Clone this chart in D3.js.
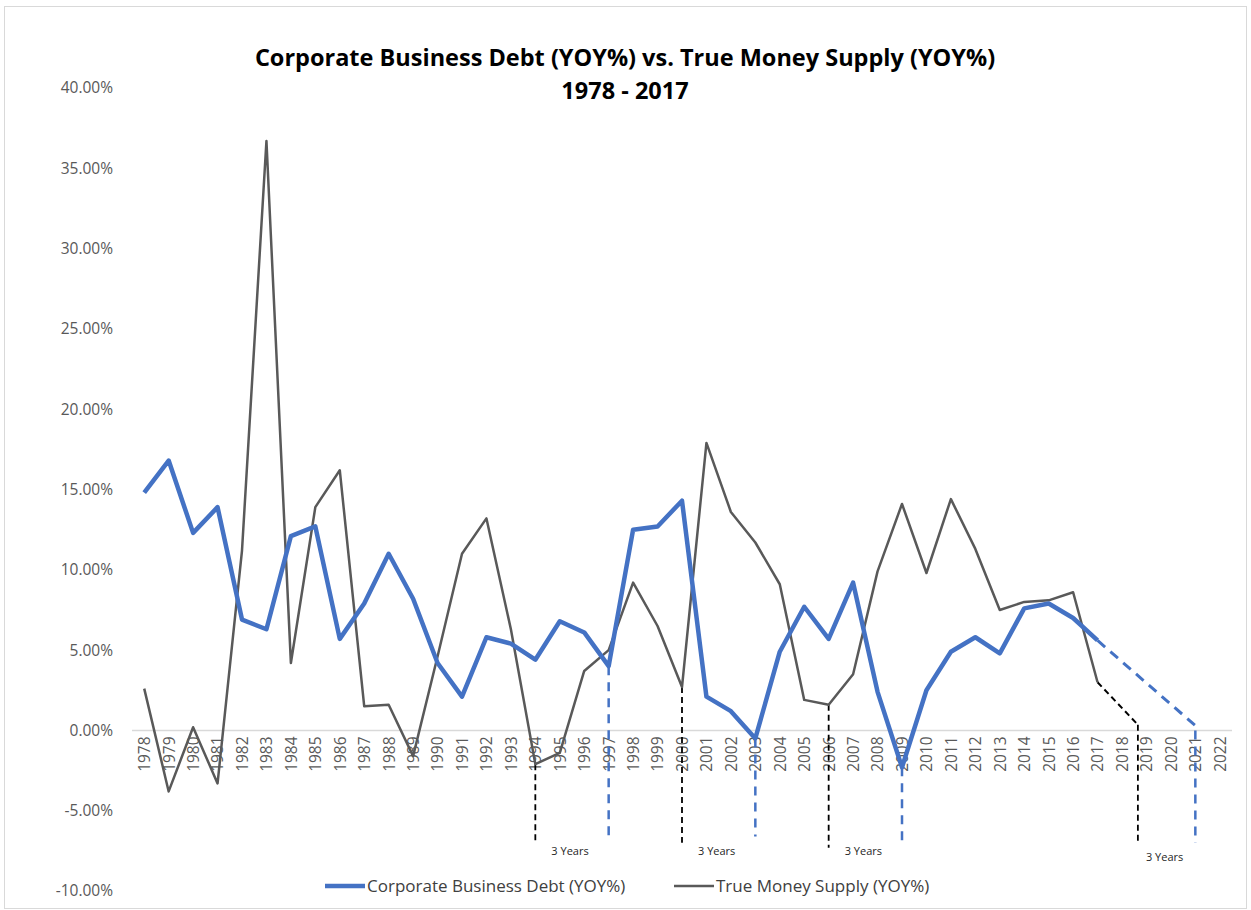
<!DOCTYPE html>
<html>
<head>
<meta charset="utf-8">
<script src="https://cdn.jsdelivr.net/npm/d3@7"></script>
<style>
  body { margin: 0; background: #fff; }
  text { font-family: "Open Sans", "DejaVu Sans", sans-serif; }
</style>
</head>
<body>
<svg class="chart" width="1251" height="910"></svg>
<script>
// data (percent YOY)
const years = d3.range(1978, 2023);
const dataYears = d3.range(1978, 2018);
const debt = [14.8, 16.8, 12.3, 13.9, 6.9, 6.3, 12.1, 12.7, 5.7, 7.9,
    11.0, 8.2, 4.2, 2.1, 5.8, 5.4, 4.4, 6.8, 6.1, 4.0,
    12.5, 12.7, 14.3, 2.1, 1.2, -0.5, 4.9, 7.7, 5.7, 9.2,
    2.4, -2.3, 2.5, 4.9, 5.8, 4.8, 7.6, 7.9, 7.0, 5.6];
const money = [2.6, -3.8, 0.2, -3.3, 11.2, 36.7, 4.2, 13.9, 16.2, 1.5,
    1.6, -1.6, 4.6, 11.0, 13.2, 6.3, -2.1, -1.4, 3.7, 5.0,
    9.2, 6.5, 2.7, 17.9, 13.6, 11.7, 9.1, 1.9, 1.6, 3.5,
    9.9, 14.1, 9.8, 14.4, 11.3, 7.5, 8.0, 8.1, 8.6, 3.0];

// dashed projections
const debtProjYears = [2017, 2021];
const debtProj = [5.6, 0.3];
const moneyProjYears = [2017, 2018.65];
const moneyProj = [3.0, 0.35];

// vertical markers ("3 Years" lag)
const markerYears = [1994, 1997, 2000, 2003, 2006, 2009, 2018.65, 2021];
const markerTops = [-2.1, 4.0, 2.7, -0.5, 1.6, -2.3, 0.35, 0.0];
const markerBottoms = [-7.0, -6.8, -7.0, -6.6, -7.3, -7.2, -7.0, -7.0];
const markerSeries = ["money", "debt", "money", "debt", "money", "debt", "money", "debt"];

const yTicks = [-10, -5, 0, 5, 10, 15, 20, 25, 30, 35, 40];
const title1 = "Corporate Business Debt (YOY%) vs. True Money Supply (YOY%)";
const title2 = "1978 - 2017";
const seriesNames = ["Corporate Business Debt (YOY%)", "True Money Supply (YOY%)"];

const blue = "#4472C4", grey = "#595959";

let svg = d3.select("svg.chart"),
    margin = {top: 88, bottom: 19, left: 132, right: 19},
    width = svg.attr("width") - margin.left - margin.right,
    height = svg.attr("height") - margin.top - margin.bottom;

// chart border
svg.append("rect")
    .attr("x", 4.5)
    .attr("y", 6.5)
    .attr("width", 1242)
    .attr("height", 902)
    .attr("fill", "none")
    .attr("stroke", "#d9d9d9");

let xScale = d3.scaleLinear()
    .domain([1977.5, 2022.5])
    .range([margin.left, margin.left + width]);
let yScale = d3.scaleLinear()
    .domain([-10, 40])
    .range([margin.top + height, margin.top]);

// title
svg.append("text")
    .attr("x", 625)
    .attr("y", 66)
    .attr("text-anchor", "middle")
    .attr("font-size", "23.5px")
    .attr("font-weight", "bold")
    .attr("fill", "#000")
    .text(title1);
svg.append("text")
    .attr("x", 625)
    .attr("y", 99)
    .attr("text-anchor", "middle")
    .attr("font-size", "23.5px")
    .attr("font-weight", "bold")
    .attr("fill", "#000")
    .text(title2);

// y axis labels (no line)
let yAxis = svg.append("g")
    .attr("transform", "translate(" + (margin.left - 16) + ",0)")
    .call(d3.axisLeft(yScale).tickValues(yTicks).tickSize(0)
        .tickFormat(d => d.toFixed(2) + "%"));
yAxis.select(".domain").remove();
yAxis.selectAll("text")
    .attr("font-family", "\"Open Sans\", sans-serif")
    .attr("font-size", "15.5px")
    .attr("fill", "#595959");

// zero line
svg.append("line")
    .attr("x1", margin.left)
    .attr("x2", margin.left + width)
    .attr("y1", yScale(0))
    .attr("y2", yScale(0))
    .attr("stroke", "#d9d9d9")
    .attr("stroke-width", 1.5);

// x axis labels, rotated, next to zero line
let xAxis = svg.append("g")
    .attr("transform", "translate(0," + yScale(0) + ")")
    .call(d3.axisBottom(xScale).tickValues(years).tickSize(0)
        .tickFormat(d3.format("d")));
xAxis.select(".domain").remove();
xAxis.selectAll("text")
    .attr("font-family", "\"Open Sans\", sans-serif")
    .attr("font-size", "15.5px")
    .attr("fill", "#595959")
    .attr("text-anchor", "end")
    .attr("dy", "0.35em")
    .attr("transform", "translate(0,6) rotate(-90)")
    .attr("x", 0)
    .attr("y", 0);

let line = d3.line()
    .x(d => xScale(d[0]))
    .y(d => yScale(d[1]));

// vertical dashed markers
svg.append("g")
    .selectAll("line")
    .data(markerYears)
    .join("line")
    .attr("x1", d => xScale(d))
    .attr("x2", d => xScale(d))
    .attr("y1", (d, i) => yScale(markerTops[i]))
    .attr("y2", (d, i) => yScale(markerBottoms[i]))
    .attr("stroke", (d, i) => markerSeries[i] == "debt" ? blue : "#000")
    .attr("stroke-width", (d, i) => markerSeries[i] == "debt" ? 2.5 : 1.8)
    .attr("stroke-dasharray", (d, i) => markerSeries[i] == "debt" ? "9,7" : "6,4");

// "3 Years" labels between each pair
let pairs = d3.range(0, markerYears.length, 2);
svg.append("g")
    .selectAll("text")
    .data(pairs)
    .join("text")
    .attr("x", i => xScale((markerYears[i] + markerYears[i + 1]) / 2) - 2)
    .attr("y", (i, k) => yScale(-7) + (k == 3 ? 18 : 12))
    .attr("text-anchor", "middle")
    .attr("font-size", "11px")
    .attr("fill", "#262626")
    .text("3 Years");

// projections
svg.append("path")
    .datum(moneyProjYears.map((y, i) => [y, moneyProj[i]]))
    .attr("fill", "none")
    .attr("stroke", "#000")
    .attr("stroke-width", 2)
    .attr("stroke-dasharray", "6,4")
    .attr("d", line);
svg.append("path")
    .datum(debtProjYears.map((y, i) => [y, debtProj[i]]))
    .attr("fill", "none")
    .attr("stroke", blue)
    .attr("stroke-width", 3)
    .attr("stroke-dasharray", "10,7")
    .attr("d", line);

// True Money Supply
svg.append("path")
    .datum(dataYears.map((y, i) => [y, money[i]]))
    .attr("fill", "none")
    .attr("stroke", grey)
    .attr("stroke-width", 2.5)
    .attr("stroke-linejoin", "round")
    .attr("d", line);

// Corporate Business Debt
svg.append("path")
    .datum(dataYears.map((y, i) => [y, debt[i]]))
    .attr("fill", "none")
    .attr("stroke", blue)
    .attr("stroke-width", 4.5)
    .attr("stroke-linejoin", "round")
    .attr("d", line);

// legend
let legend = svg.append("g")
    .attr("transform", "translate(325,886)");
let legendItems = legend.selectAll("g")
    .data(seriesNames)
    .join("g")
    .attr("transform", (d, i) => "translate(" + (i * 349) + ",0)");
legendItems.append("line")
    .attr("x1", 0)
    .attr("x2", 40)
    .attr("stroke", (d, i) => i == 0 ? blue : grey)
    .attr("stroke-width", (d, i) => i == 0 ? 4.5 : 2.5);
legendItems.append("text")
    .attr("x", 42)
    .attr("dy", "0.35em")
    .attr("font-size", "17px")
    .attr("fill", "#404040")
    .text(d => d);
</script>
</body>
</html>
